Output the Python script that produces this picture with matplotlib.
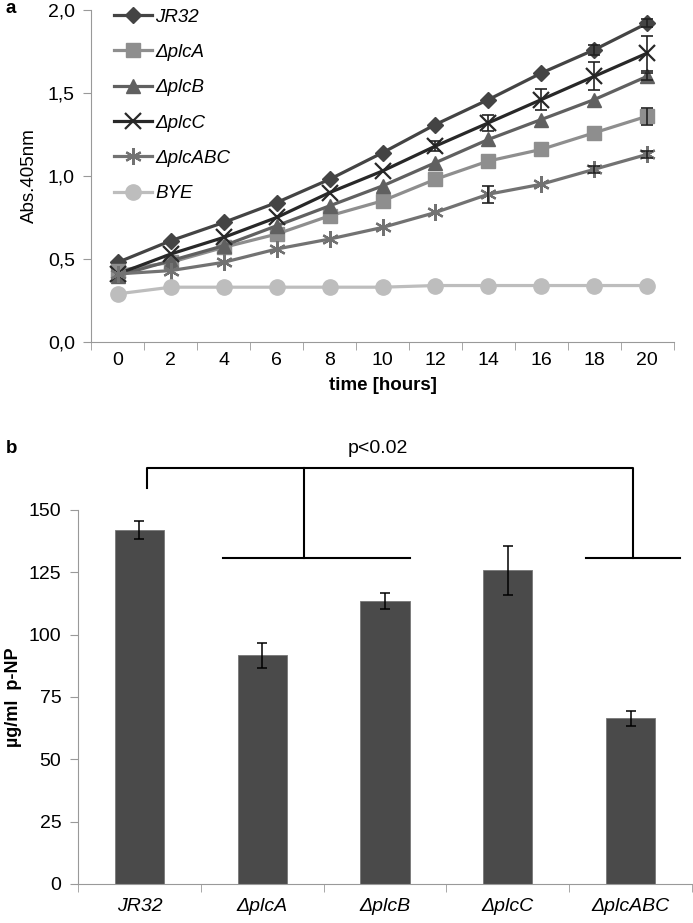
import numpy as np
import matplotlib
matplotlib.use("Agg")
import matplotlib.pyplot as plt
from matplotlib.ticker import FixedLocator

plt.rcParams['font.family'] = ['Liberation Sans', 'DejaVu Sans']

# panel a: growth curves
time_h = [0, 2, 4, 6, 8, 10, 12, 14, 16, 18, 20]
strains = ['JR32', 'ΔplcA', 'ΔplcB', 'ΔplcC', 'ΔplcABC', 'BYE']
jr32 = [0.48, 0.61, 0.72, 0.84, 0.98, 1.14, 1.31, 1.46, 1.62, 1.76, 1.92]
plca = [0.43, 0.48, 0.57, 0.65, 0.76, 0.85, 0.98, 1.09, 1.16, 1.26, 1.36]
plcb = [0.40, 0.49, 0.58, 0.70, 0.82, 0.94, 1.08, 1.22, 1.34, 1.46, 1.60]
plcc = [0.41, 0.53, 0.63, 0.75, 0.90, 1.03, 1.18, 1.32, 1.46, 1.60, 1.74]
plcabc = [0.41, 0.43, 0.48, 0.56, 0.62, 0.69, 0.78, 0.89, 0.95, 1.04, 1.13]
bye = [0.29, 0.33, 0.33, 0.33, 0.33, 0.33, 0.34, 0.34, 0.34, 0.34, 0.34]

jr32_err = [0, 0, 0, 0, 0, 0, 0, 0, 0, 0.03, 0.025]
plca_err = [0, 0, 0, 0, 0, 0, 0, 0, 0, 0, 0.05]
plcb_err = [0, 0, 0, 0, 0, 0, 0, 0, 0, 0, 0.02]
plcc_err = [0, 0, 0, 0, 0, 0, 0.03, 0.05, 0.065, 0.085, 0.105]
plcabc_err = [0, 0, 0, 0, 0, 0, 0, 0.05, 0, 0.02, 0.02]
bye_err = [0] * 11

# panel b: p-NP release
bar_labels = ['JR32', 'ΔplcA', 'ΔplcB', 'ΔplcC', 'ΔplcABC']
pnp = [141.8, 91.7, 113.5, 125.8, 66.4]
pnp_err = [3.6, 5.0, 3.1, 9.8, 2.9]

grey = '#999999'

fig = plt.figure(figsize=(6.93, 9.23), dpi=100)
ax1 = fig.add_axes([0.132, 0.6295, 0.840, 0.3597])
ax2 = fig.add_axes([0.1126, 0.0423, 0.886, 0.4052])

series = [jr32, plca, plcb, plcc, plcabc, bye]
errs = [jr32_err, plca_err, plcb_err, plcc_err, plcabc_err, bye_err]
colors = ['#444444', '#8e8e8e', '#606060', '#282828', '#727272', '#bdbdbd']
markers = ['D', 's', '^', 'x', (6, 2, 0), 'o']
msizes = [8, 10, 10, 12, 12, 11]

handles = []
for vals, err, c, m, ms, name in zip(series, errs, colors, markers, msizes, strains):
    idx = [i for i, e in enumerate(err) if e > 0]
    if idx:
        ax1.errorbar([time_h[i] for i in idx], [vals[i] for i in idx],
                     yerr=[err[i] for i in idx], fmt='none', ecolor='#222222',
                     elinewidth=1.2, capsize=4, capthick=1.2, zorder=4)
    mew = 1.6 if m in ('x', (6, 2, 0)) else 1
    h, = ax1.plot(time_h, vals, color=c, lw=2.3, marker=m, ms=ms,
                  mec=c, mfc=c, mew=mew, zorder=3, label=name)
    handles.append(h)

ax1.set_xlim(-1, 21)
ax1.set_ylim(0, 2.0)
ax1.set_yticks([0, 0.5, 1.0, 1.5, 2.0])
ax1.set_yticklabels(['0,0', '0,5', '1,0', '1,5', '2,0'])
ax1.set_xticks(time_h)
ax1.xaxis.set_minor_locator(FixedLocator(np.arange(-1, 22, 2)))
ax1.tick_params(axis='x', which='major', length=0, pad=7, labelsize=14)
ax1.tick_params(axis='x', which='minor', length=6, color=grey, direction='out')
ax1.tick_params(axis='y', length=6, color=grey, labelsize=14, pad=6)
ax1.set_xlabel('time [hours]', fontsize=13.5, fontweight='bold', labelpad=6)
ax1.set_ylabel('Abs.405nm', fontsize=13.5, va='center')
ax1.yaxis.set_label_coords(-(91.5 - 30) / 582, 0.5)
for s in ['top', 'right']:
    ax1.spines[s].set_visible(False)
for s in ['left', 'bottom']:
    ax1.spines[s].set_color(grey)

leg = ax1.legend(handles=handles, loc='upper left', bbox_to_anchor=(0.01, 1.055),
                 frameon=False, handlelength=2.0, handletextpad=0.2,
                 labelspacing=0.97, prop={'style': 'italic', 'size': 13.5})

# panel b
xb = np.arange(len(bar_labels))
ax2.bar(xb, pnp, width=0.4, color='#4a4a4a', edgecolor='#777777', lw=0.6, zorder=2)
ax2.errorbar(xb, pnp, yerr=pnp_err, fmt='none', ecolor='black', elinewidth=1.1,
             capsize=3.5, capthick=1.1, zorder=3)
ax2.set_xlim(-0.5, 4.5)
ax2.set_ylim(0, 150)
ax2.set_yticks([0, 25, 50, 75, 100, 125, 150])
ax2.set_xticks(xb)
ax2.set_xticklabels(bar_labels, fontstyle='italic')
ax2.xaxis.set_minor_locator(FixedLocator(np.arange(-0.5, 4.6, 1)))
ax2.tick_params(axis='x', which='major', length=0, pad=10, labelsize=14)
ax2.tick_params(axis='x', which='minor', length=6, color=grey, direction='out')
ax2.tick_params(axis='y', length=6, color=grey, labelsize=14, pad=6)
ax2.set_ylabel('µg/ml  p-NP', fontsize=13, fontweight='bold', va='center')
ax2.yaxis.set_label_coords(-(78 - 13) / 614, 0.5)
for s in ['top', 'right']:
    ax2.spines[s].set_visible(False)
for s in ['left', 'bottom']:
    ax2.spines[s].set_color(grey)

# significance bracket
kw = dict(color='black', lw=1.5, clip_on=False)
ax2.plot([0.06, 0.06, 4.02, 4.02], [158.8, 166.7, 166.7, 130.9], **kw)
ax2.plot([1.34, 1.34], [166.7, 130.9], **kw)
ax2.plot([0.68, 2.2], [130.9, 130.9], **kw)
ax2.plot([3.64, 4.4], [130.9, 130.9], **kw)
ax2.text(1.94, 174.5, 'p<0.02', ha='center', va='center', fontsize=14)

fig.text(0.008, 0.991, 'a', fontsize=13.5, fontweight='bold', va='center')
fig.text(0.008, 1 - 449 / 923, 'b', fontsize=13.5, fontweight='bold', va='center')

fig.savefig('out.png', dpi=100)
